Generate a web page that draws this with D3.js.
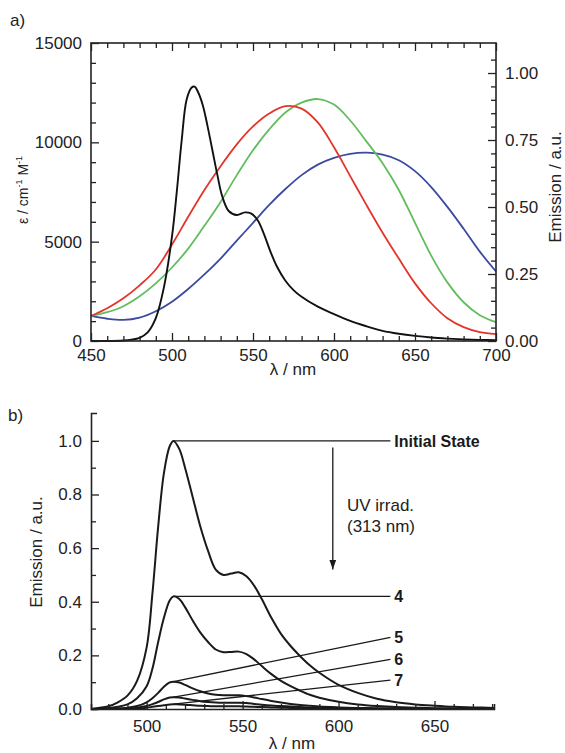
<!DOCTYPE html>
<html><head><meta charset="utf-8">
<script src="https://cdn.jsdelivr.net/npm/d3@7"></script>
<style>
body{margin:0;background:#fff;}
svg{display:block;font-family:"Liberation Sans",Arial,Helvetica,sans-serif;}
</style></head><body>
<svg id="c" width="565" height="753"></svg>
<script>
// ---------- Panel a) data ----------
const wlA = [450,460,470,480,490,500,510,520,530,540,550,560,570,580,590,600,610,620,630,640,650,660,670,680,690,700];
const epsRed   = [1260,1650,2150,2800,3600,4850,6250,7600,8800,9900,10800,11450,11820,11700,11000,9750,8300,6850,5450,4150,2900,1900,1150,700,450,350];
const epsGreen = [1260,1450,1750,2250,2900,3700,4650,5800,7000,8350,9600,10650,11500,12000,12180,11900,11100,10050,8950,7600,5950,4300,2950,1950,1300,950];
const epsBlue  = [1260,1120,1060,1180,1500,1980,2620,3350,4150,5050,5950,6850,7650,8350,8880,9220,9420,9480,9380,9100,8550,7750,6750,5650,4500,3500];
const wlEm  = [450,460,470,475,480,485,490,495,500,503,506,509,512,514,516,519,522,525,528,531,535,540,545,549,553,557,561,565,570,575,580,590,600,610,620,630,640,650,660,670,680,690,700];
const emTop = [0,0,0.002,0.005,0.012,0.032,0.085,0.2,0.39,0.56,0.75,0.9,0.945,0.949,0.93,0.88,0.8,0.71,0.62,0.54,0.485,0.47,0.48,0.475,0.45,0.395,0.33,0.275,0.225,0.19,0.165,0.128,0.1,0.075,0.055,0.038,0.027,0.019,0.013,0.009,0.006,0.004,0.003];
const xTicksA = [450,500,550,600,650,700];
const epsTicks = [0,5000,10000,15000];
const emTicksA = [0,0.25,0.5,0.75,1.0];

// ---------- Panel b) data ----------
const wlB = [471,480,485,490,495,500,503,506,509,512,514,517,520,524,528,532,536,540,544,548,552,556,560,565,570,575,580,585,590,600,610,620,630,640,650,660,670,681];
const emInit = [0,0.01,0.025,0.05,0.105,0.23,0.43,0.68,0.88,0.98,1.0,0.97,0.9,0.79,0.68,0.59,0.52,0.5,0.505,0.51,0.495,0.46,0.41,0.34,0.28,0.235,0.197,0.163,0.135,0.09,0.06,0.038,0.025,0.017,0.012,0.008,0.006,0.004];
const em4 = [0,0.003,0.008,0.017,0.04,0.085,0.15,0.25,0.34,0.405,0.42,0.41,0.38,0.33,0.285,0.25,0.222,0.212,0.213,0.214,0.205,0.185,0.16,0.13,0.105,0.085,0.068,0.053,0.042,0.027,0.017,0.011,0.007,0.005,0.003,0.002,0.001,0.001];
const em5 = [0,0.001,0.002,0.005,0.011,0.025,0.04,0.06,0.083,0.099,0.102,0.099,0.09,0.077,0.066,0.058,0.053,0.051,0.051,0.051,0.048,0.043,0.037,0.03,0.024,0.019,0.015,0.012,0.009,0.006,0.004,0.003,0.002,0.001,0.001,0,0,0];
const em6 = [0,0,0.001,0.002,0.005,0.011,0.018,0.026,0.036,0.043,0.044,0.043,0.039,0.034,0.029,0.026,0.024,0.023,0.023,0.023,0.022,0.019,0.016,0.013,0.011,0.009,0.007,0.005,0.004,0.003,0.002,0.001,0.001,0,0,0,0,0];
const em7 = [0,0,0,0.001,0.002,0.005,0.008,0.011,0.014,0.017,0.018,0.017,0.016,0.014,0.012,0.011,0.01,0.01,0.01,0.01,0.009,0.008,0.007,0.006,0.005,0.004,0.003,0.003,0.002,0.001,0.001,0,0,0,0,0,0,0];
const seriesB = [emInit, em4, em5, em6, em7];
const labelsB = ["Initial State","4","5","6","7"];
const labelValB = [1.0, 0.42, 0.2675, 0.185, 0.108];
const labelWlB = 627;
const xTicksB = [500,550,600,650];
const yTicksB = [0,0.2,0.4,0.6,0.8,1.0];

// ---------- drawing ----------
const svg = d3.select("#c");
const FS = 17, INK = "#222";
const smooth = d3.curveCatmullRom.alpha(0.5);

function styleAxis(g){
  g.attr("font-family", null).attr("font-size", null);
  g.selectAll("text").attr("font-size", FS).attr("fill", INK);
  g.selectAll("line").attr("stroke", INK).attr("stroke-width", 1.3);
  g.selectAll("path.domain").attr("stroke", INK).attr("stroke-width", 1.6);
}
function noDomain(g){ g.select("path.domain").remove(); }

// ===== Panel a =====
const xA = d3.scaleLinear().domain([450,700]).range([91,496]);
const yA = d3.scaleLinear().domain([0,15000]).range([341,43]);
const yA2 = d3.scaleLinear().domain([0,1.112]).range([341,43]);

const minorX = d3.range(450,701,10).filter(v=>v%50!==0);
const minorEps = d3.range(0,15001,1000).filter(v=>v%5000!==0);
const minorEm = d3.range(0,1.1,0.05).filter(v=>Math.abs(v*4-Math.round(v*4))>1e-6);

const lineA = d3.line().x(d=>xA(d[0])).y(d=>yA(d[1])).curve(smooth);
const lineA2 = d3.line().x(d=>xA(d[0])).y(d=>yA2(d[1])).curve(smooth);
const gA = svg.append("g");
[[epsBlue,"#3b4a9e"],[epsGreen,"#62bd5e"],[epsRed,"#e2352b"]].forEach(([s,c])=>{
  gA.append("path").attr("d", lineA(wlA.map((w,i)=>[w,s[i]])))
    .attr("fill","none").attr("stroke",c).attr("stroke-width",1.8);
});
gA.append("path").attr("d", lineA2(wlEm.map((w,i)=>[w,emTop[i]])))
  .attr("fill","none").attr("stroke","#111").attr("stroke-width",1.9);

svg.append("rect").attr("x",91).attr("y",43).attr("width",405).attr("height",298)
  .attr("fill","none").attr("stroke",INK).attr("stroke-width",1.6);

svg.append("g").attr("transform","translate(0,341)")
  .call(d3.axisBottom(xA).tickValues(xTicksA).tickSize(-8).tickPadding(8).tickFormat(d3.format("d")))
  .call(styleAxis).call(noDomain);
svg.append("g").attr("transform","translate(0,341)")
  .call(d3.axisBottom(xA).tickValues(minorX).tickSize(-5).tickFormat(""))
  .call(styleAxis).call(noDomain);
svg.append("g").attr("transform","translate(0,43)")
  .call(d3.axisTop(xA).tickValues(xTicksA).tickSize(-8).tickFormat(""))
  .call(styleAxis).call(noDomain);
svg.append("g").attr("transform","translate(0,43)")
  .call(d3.axisTop(xA).tickValues(minorX).tickSize(-5).tickFormat(""))
  .call(styleAxis).call(noDomain);
svg.append("g").attr("transform","translate(91,0)")
  .call(d3.axisLeft(yA).tickValues(epsTicks).tickSize(-8).tickPadding(9).tickFormat(d3.format("d")))
  .call(styleAxis).call(noDomain);
svg.append("g").attr("transform","translate(91,0)")
  .call(d3.axisLeft(yA).tickValues(minorEps).tickSize(-5).tickFormat(""))
  .call(styleAxis).call(noDomain);
svg.append("g").attr("transform","translate(496,0)")
  .call(d3.axisRight(yA2).tickValues(emTicksA).tickSize(-8).tickPadding(9).tickFormat(d3.format(".2f")))
  .call(styleAxis).call(noDomain);
svg.append("g").attr("transform","translate(496,0)")
  .call(d3.axisRight(yA2).tickValues(minorEm).tickSize(-5).tickFormat(""))
  .call(styleAxis).call(noDomain);

svg.append("text").attr("x",10).attr("y",26).attr("font-size",17).attr("fill",INK).text("a)");
svg.append("text").attr("x",293).attr("y",375).attr("text-anchor","middle").attr("font-size",FS).attr("fill",INK).text("λ / nm");
const epsT = svg.append("text").attr("transform","translate(28,190) rotate(-90)")
  .attr("text-anchor","middle").attr("font-size",14).attr("fill",INK);
epsT.append("tspan").text("ε / cm");
epsT.append("tspan").attr("font-size",9).attr("dy",-6).text("-1");
epsT.append("tspan").attr("dy",6).text(" M");
epsT.append("tspan").attr("font-size",9).attr("dy",-6).text("-1");
svg.append("text").attr("transform","translate(561,187) rotate(-90)")
  .attr("text-anchor","middle").attr("font-size",FS).attr("fill",INK).text("Emission / a.u.");

// ===== Panel b =====
const xB = d3.scaleLinear().domain([471,681]).range([91,494]);
const yB = d3.scaleLinear().domain([0,1.104]).range([709,413]);
const lineB = d3.line().x(d=>xB(d[0])).y(d=>yB(d[1])).curve(smooth);
const gB = svg.append("g");
seriesB.forEach(s=>{
  gB.append("path").attr("d", lineB(wlB.map((w,i)=>[w,s[i]])))
    .attr("fill","none").attr("stroke","#1a1a1a").attr("stroke-width",2);
});
seriesB.forEach((s,k)=>{
  const im = d3.maxIndex(s);
  gB.append("line").attr("x1",xB(wlB[im])).attr("y1",yB(s[im]))
    .attr("x2",xB(labelWlB)).attr("y2",yB(labelValB[k]))
    .attr("stroke","#1a1a1a").attr("stroke-width",1.3);
  gB.append("text").attr("x",xB(labelWlB)+4).attr("y",yB(labelValB[k])).attr("dy","0.36em")
    .attr("font-size",16).attr("font-weight","bold").attr("fill","#1a1a1a").text(labelsB[k]);
});
const arrowWl = 597, arrowFrom = 0.975, arrowTo = 0.52;
svg.append("defs").append("marker").attr("id","ah").attr("viewBox","0 0 10 10")
  .attr("refX",10).attr("refY",5).attr("markerWidth",10).attr("markerHeight",10)
  .attr("markerUnits","userSpaceOnUse").attr("orient","auto")
  .append("path").attr("d","M0,1.5L10,5L0,8.5Z").attr("fill","#1a1a1a");
gB.append("line").attr("x1",xB(arrowWl)).attr("y1",yB(arrowFrom))
  .attr("x2",xB(arrowWl)).attr("y2",yB(arrowTo))
  .attr("stroke","#1a1a1a").attr("stroke-width",1.3).attr("marker-end","url(#ah)");
gB.append("text").attr("x",347).attr("y",511).attr("font-size",FS).attr("fill",INK).text("UV irrad.");
gB.append("text").attr("x",347).attr("y",532).attr("font-size",FS).attr("fill",INK).text("(313 nm)");

const minorXB = d3.range(480,681,10).filter(v=>v%50!==0);
const minorYB = [0.1,0.3,0.5,0.7,0.9];
svg.append("g").attr("transform","translate(0,709)")
  .call(d3.axisBottom(xB).tickValues(xTicksB).tickSize(-8).tickSizeOuter(-5).tickPadding(11).tickFormat(d3.format("d")))
  .call(styleAxis);
svg.append("g").attr("transform","translate(0,709)")
  .call(d3.axisBottom(xB).tickValues(minorXB).tickSize(-5).tickFormat(""))
  .call(styleAxis).call(noDomain);
svg.append("g").attr("transform","translate(91,0)")
  .call(d3.axisLeft(yB).tickValues(yTicksB).tickSize(-8).tickSizeOuter(-6).tickPadding(9).tickFormat(d3.format(".1f")))
  .call(styleAxis);
svg.append("g").attr("transform","translate(91,0)")
  .call(d3.axisLeft(yB).tickValues(minorYB).tickSize(-5).tickFormat(""))
  .call(styleAxis).call(noDomain);

svg.append("text").attr("x",8).attr("y",421).attr("font-size",17).attr("fill",INK).text("b)");
svg.append("text").attr("transform","translate(42,552) rotate(-90)")
  .attr("text-anchor","middle").attr("font-size",FS).attr("fill",INK).text("Emission / a.u.");
svg.append("text").attr("x",292).attr("y",749).attr("text-anchor","middle").attr("font-size",FS).attr("fill",INK).text("λ / nm");
</script></body></html>
